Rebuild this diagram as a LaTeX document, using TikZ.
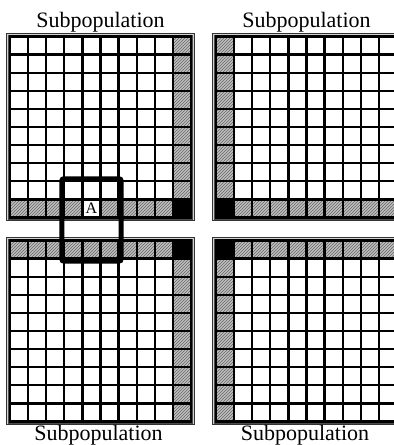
\documentclass[tikz,border=0pt]{standalone}
\usepackage{fontspec}
\setmainfont{Liberation Serif}
\usetikzlibrary{patterns}
\tikzset{
  gridline/.style={line width=2.3pt, black},
  hatchcell/.style={fill=gray!50, postaction={pattern=north east lines, pattern color=black!60}},
  blackcell/.style={fill=black},
  framebox/.style={line width=0.9pt, draw=black!80, fill=gray!35},
  lens/.style={line width=5pt, black, rounded corners=2pt},
  poplabel/.style={font=\fontsize{22}{25}\selectfont, inner sep=0pt, anchor=base},
  celllabel/.style={font=\fontsize{16}{18}\selectfont, inner sep=0pt}
}
\def\cs{18.1}
% \drawpanel{X}{Y}{shaded col}{shaded row}
\newcommand{\drawpanel}[4]{%
  \pgfmathsetmacro{\Xe}{#1+10*\cs}%
  \pgfmathsetmacro{\Ye}{#2+10*\cs}%
  \draw[framebox] ({#1-3.4},{#2-3.4}) rectangle ({\Xe+3.4},{\Ye+3.4});
  \draw[line width=0.6pt, black!70] ({#1-1.6},{#2-1.6}) rectangle ({\Xe+1.6},{\Ye+1.6});
  \fill[white] (#1,#2) rectangle (\Xe,\Ye);
  \foreach \k in {0,...,9}{%
    \fill[hatchcell] ({#1+#3*\cs},{#2+\k*\cs}) rectangle ({#1+(#3+1)*\cs},{#2+(\k+1)*\cs});
    \fill[hatchcell] ({#1+\k*\cs},{#2+#4*\cs}) rectangle ({#1+(\k+1)*\cs},{#2+(#4+1)*\cs});
  }
  \fill[blackcell] ({#1+#3*\cs},{#2+#4*\cs}) rectangle ({#1+(#3+1)*\cs},{#2+(#4+1)*\cs});
}
\newcommand{\drawpanelgrid}[2]{%
  \pgfmathsetmacro{\Xe}{#1+10*\cs}%
  \pgfmathsetmacro{\Ye}{#2+10*\cs}%
  \foreach \k in {0,...,10}{%
    \draw[gridline] ({#1+\k*\cs},{#2-1.15}) -- ({#1+\k*\cs},{\Ye+1.15});
    \draw[gridline] ({#1-1.15},{#2+\k*\cs}) -- ({\Xe+1.15},{#2+\k*\cs});
  }
}
\begin{document}
\begin{tikzpicture}[x=1pt,y=-1pt]
  \useasboundingbox (0,0) rectangle (394,445);
  \fill[white] (0,0) rectangle (394,445);
  \begin{scope}
    \clip (0,0) rectangle (394,445);
    % top-left
    \drawpanel{10}{36.5}{9}{9}
    \fill[white] ({10+4*\cs},{36.5+9*\cs}) rectangle ({10+5*\cs},{36.5+10*\cs});
    \drawpanelgrid{10}{36.5}
    % top-right
    \drawpanel{216}{36.5}{0}{9}
    \drawpanelgrid{216}{36.5}
    % bottom-left
    \drawpanel{10}{240.5}{9}{0}
    \drawpanelgrid{10}{240.5}
    % bottom-right
    \drawpanel{216}{240.5}{0}{0}
    \drawpanelgrid{216}{240.5}
  \end{scope}
  \node[celllabel] (A) at ({10+4.5*\cs},{36.5+9.5*\cs}) {A};
  % lens rectangle
  \coordinate (lensNW) at ({10+3*\cs-2.5},{36.5+8*\cs-2.5});
  \coordinate (lensSE) at ({10+6*\cs+2.5},{240.5+1*\cs+2.5});
  \draw[lens] (lensNW) rectangle (lensSE);
  % labels
  \node[poplabel] (tl) at (100.5,27.5) {Subpopulation};
  \node[poplabel] (tr) at (306.5,27.5) {Subpopulation};
  \node[poplabel] (bl) at (98.5,440.5) {Subpopulation};
  \node[poplabel] (br) at (305,440.5) {Subpopulation};
\end{tikzpicture}
\end{document}
